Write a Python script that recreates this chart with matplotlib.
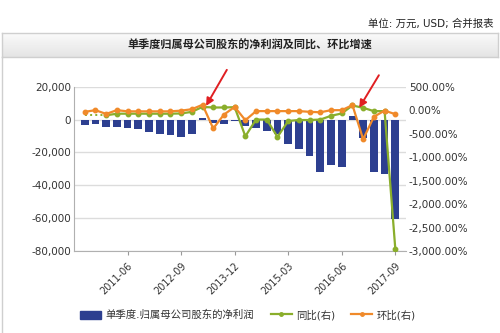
import numpy as np
import matplotlib
matplotlib.use("Agg")
import matplotlib.pyplot as plt
from matplotlib.patches import Patch, Rectangle
from matplotlib.lines import Line2D
from matplotlib.ticker import FuncFormatter

plt.rcParams['font.family'] = ['DejaVu Sans', 'Noto Sans CJK SC']

# Quarterly periods, 2010-06 .. 2017-09
quarters = [f"{y}-{m:02d}" for y in range(2010, 2018) for m in (3, 6, 9, 12)]
quarters = quarters[1:31]

# Single-quarter net profit attributable to parent shareholders (10k USD)
net_profit = [-3400, -2800, -4400, -4500, -5400, -6000, -7700, -8700, -9700, -10500,
              -8500, 1100, -2000, -3000, -1000, -4000, -5000, -7000, -9000, -15000,
              -17700, -22000, -31700, -27700, -28900, 2000, -11500, -31900, -33300, -60600]

# Year-over-year growth (%), right axis
yoy = [-110, -110, -110, -75, -75, -75, -75, -75, -75, -70,
       -36, 70, 57, 57, 64, -556, -200, -200, -570, -230,
       -210, -210, -200, -120, -70, 100, 50, -20, -20, -2950]

# Quarter-over-quarter growth (%), right axis
qoq = [-36, 0, -80, 0, -25, -25, -25, -25, -25, -10,
       20, 115, -390, -95, 70, -214, -20, -20, -20, -20,
       -20, -35, -45, 0, 0, 107, -620, -140, -10, -85]

tick_idx = [4, 9, 14, 19, 24, 29]

BLUE = '#2d3f90'
GREEN = '#8aae2b'
ORANGE = '#f08a2a'
RED = '#e01f22'
GRID = '#dcdcdc'
TXT = '#333333'

W, H = 500, 333
fig = plt.figure(figsize=(W / 100, H / 100), dpi=100)
fig.patch.set_facecolor('white')

# Header bar with gradient
hdr = fig.add_axes([2 / W, 1 - 57 / H, 496 / W, 24 / H])
grad = np.linspace(1.0, 0.0, 64).reshape(-1, 1)
hdr.imshow(grad, aspect='auto', cmap=matplotlib.colors.LinearSegmentedColormap.from_list(
    'g', ['#e4e4e4', '#fbfbfb']), extent=[0, 1, 0, 1])
hdr.set_xticks([]); hdr.set_yticks([])
for s in hdr.spines.values():
    s.set_color('#cfcfcf'); s.set_linewidth(1)
hdr.text(0.5, 0.5, '单季度归属母公司股东的净利润及同比、环比增速', ha='center', va='center',
         fontsize=8, fontweight='bold', color='#222222', transform=hdr.transAxes)

fig.text(493 / W, 1 - 24 / H, '单位: 万元, USD; 合并报表', ha='right', va='center',
         fontsize=7.5, color='#222222')

# Left frame edge
fig.add_artist(Line2D([2 / W, 2 / W], [0, 1 - 57 / H], transform=fig.transFigure,
                      color='#cfcfcf', lw=1))

ax = fig.add_axes([74 / W, 1 - 251 / H, 332 / W, (251 - 86.7) / H])
x = np.arange(len(quarters))
ax.bar(x, net_profit, width=0.72, color=BLUE, zorder=2)
ax.set_xlim(-1, 30)
ax.set_ylim(-80000, 20000)
ax.set_yticks(np.arange(-80000, 20001, 20000))
ax.yaxis.set_major_formatter(FuncFormatter(lambda v, p: f"{v:,.0f}"))
ax.grid(axis='y', color=GRID, lw=1, zorder=0)
ax.set_axisbelow(True)
ax.set_xticks(tick_idx)
ax.set_xticklabels([quarters[i] for i in tick_idx], rotation=45, ha='right',
                   rotation_mode='anchor', fontsize=7, color=TXT)
ax.tick_params(axis='x', length=3, color='#999999', pad=4)
ax.tick_params(axis='y', length=0, labelsize=7.5, labelcolor=TXT, pad=2)
for s in ['top', 'right']:
    ax.spines[s].set_visible(False)
for s in ['left', 'bottom']:
    ax.spines[s].set_color('#b0b0b0')

ax2 = ax.twinx()
ax2.set_ylim(-3000, 500)
ax2.set_yticks(np.arange(-3000, 501, 500))
ax2.yaxis.set_major_formatter(FuncFormatter(lambda v, p: f"{v:,.2f}%"))
ax2.tick_params(axis='y', length=0, labelsize=7.5, labelcolor=TXT, pad=2)
for s in ax2.spines.values():
    s.set_visible(False)

# YoY: first periods drawn dotted (no markers), rest solid
ax2.plot(x[:3], yoy[:3], color=GREEN, lw=1.4, ls=':', zorder=3)
ax2.plot(x[2:], yoy[2:], color=GREEN, lw=1.6, marker='o', ms=3.2, zorder=3)
ax2.plot(x, qoq, color=ORANGE, lw=1.6, marker='o', ms=3.2, zorder=4)

# Red arrows highlighting the two positive quarters
arrow_kw = dict(arrowstyle='-|>', color=RED, lw=1.4, mutation_scale=11)
ax2.annotate('', xy=(11.2, 40), xytext=(13.4, 910), arrowprops=arrow_kw,
             annotation_clip=False, zorder=6)
ax2.annotate('', xy=(25.5, 0), xytext=(27.6, 795), arrowprops=arrow_kw,
             annotation_clip=False, zorder=6)

handles = [Patch(facecolor=BLUE, edgecolor=BLUE),
           Line2D([], [], color=GREEN, lw=1.6, marker='o', ms=2.5),
           Line2D([], [], color=ORANGE, lw=1.6, marker='o', ms=2.5)]
labels = ['单季度.归属母公司股东的净利润', '同比(右)', '环比(右)']
fig.legend(handles, labels, ncol=3, loc='center', bbox_to_anchor=(248 / W, 1 - 315 / H),
           frameon=False, fontsize=7.5, handlelength=2.0, handleheight=0.8,
           handletextpad=0.4, columnspacing=1.6, labelcolor=TXT)

fig.savefig('out.png', dpi=100)
